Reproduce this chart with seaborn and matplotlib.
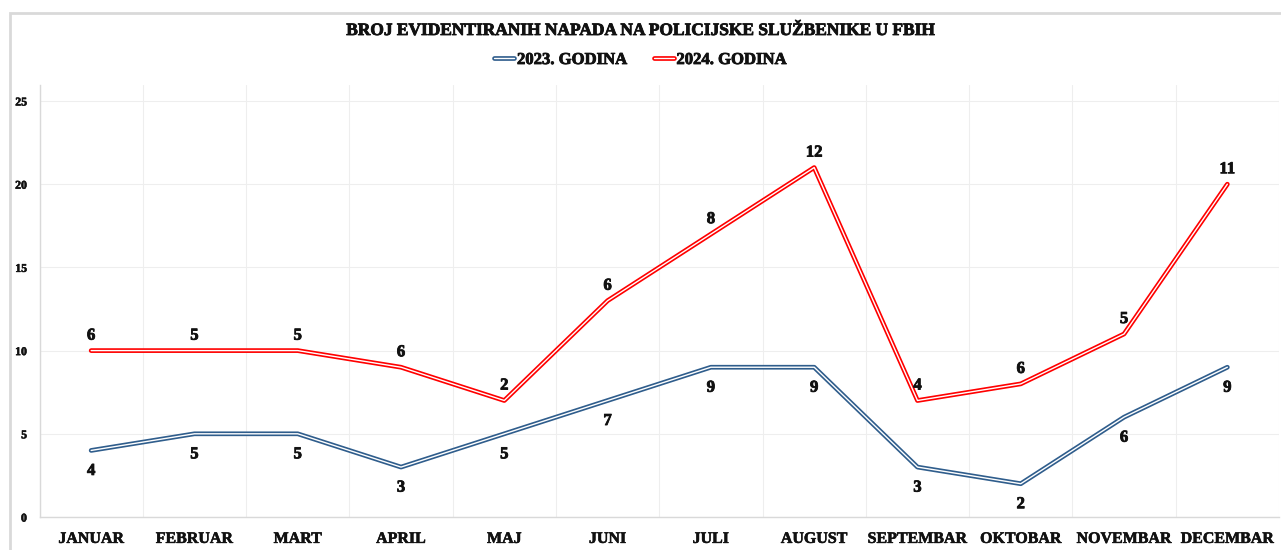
import numpy as np
import pandas as pd
import matplotlib
matplotlib.use("Agg")
import matplotlib.pyplot as plt
import matplotlib.patheffects as pe
from matplotlib.patches import Rectangle
import seaborn as sns

months = ["JANUAR", "FEBRUAR", "MART", "APRIL", "MAJ", "JUNI", "JULI",
          "AUGUST", "SEPTEMBAR", "OKTOBAR", "NOVEMBAR", "DECEMBAR"]
v2023 = [4, 5, 5, 3, 5, 7, 9, 9, 3, 2, 6, 9]
v2024 = [6, 5, 5, 6, 2, 6, 8, 12, 4, 6, 5, 11]
series_names = ["2023. GODINA", "2024. GODINA"]
colors = ["#2F5D8C", "#FF0000"]
yticks = [0, 5, 10, 15, 20, 25]
title = "BROJ EVIDENTIRANIH NAPADA NA POLICIJSKE SLUŽBENIKE U FBIH"

# stacked line chart: 2024 is drawn on top of 2023
stack2023 = np.array(v2023)
stack2024 = stack2023 + np.array(v2024)

df = pd.DataFrame({
    "x": list(range(len(months))) * 2,
    "y": list(stack2023) + list(stack2024),
    "label": v2023 + v2024,
    "series": [series_names[0]] * 12 + [series_names[1]] * 12,
})

sns.set_theme(style="white")
plt.rcParams["font.family"] = ["Liberation Serif", "DejaVu Serif"]
plt.rcParams["font.weight"] = "bold"

TXT = "#111111"
bold_fx = [pe.withStroke(linewidth=0.6, foreground=TXT)]

fig = plt.figure(figsize=(12.81, 5.5), dpi=100)
W, H = 1281, 550
ax = fig.add_axes([39.5 / W, 1 - 517 / H, (1279 - 39.5) / W, (517 - 85) / H])

# chart border
fig.patches.append(Rectangle((10 / W, -0.1), 1.2, (550 - 13) / H + 0.1,
                             transform=fig.transFigure, fill=False,
                             edgecolor="#D9D9D9", linewidth=2, zorder=0))

for name, col in zip(series_names, colors):
    sub = df[df["series"] == name]
    sns.lineplot(data=sub, x="x", y="y", ax=ax, color="white", linewidth=1.0,
                 label=name, estimator=None, sort=False,
                 path_effects=[pe.Stroke(linewidth=3.4, foreground=col), pe.Normal()],
                 zorder=3)

ax.set_xlim(-0.5, 11.5)
ax.set_ylim(0, 25.96)
ax.set_yticks(yticks)
ax.set_yticklabels([str(t) for t in yticks], fontsize=8.5, fontweight="bold",
                   color=TXT)
ax.set_xticks(range(len(months)))
ax.set_xticklabels(months, fontsize=11.5, fontweight="bold", color=TXT)
for t in ax.get_xticklabels() + ax.get_yticklabels():
    t.set_path_effects([pe.withStroke(linewidth=0.4, foreground=TXT)])
ax.set_xticks(np.arange(-0.5, 12, 1), minor=True)
ax.tick_params(axis="both", which="both", length=0)
ax.tick_params(axis="x", pad=10)
ax.tick_params(axis="y", pad=9)
ax.grid(True, axis="y", which="major", color="#EEEEEE", linewidth=0.8)
ax.grid(True, axis="x", which="minor", color="#EEEEEE", linewidth=0.8)
ax.grid(False, axis="x", which="major")
ax.set_xlabel("")
ax.set_ylabel("")
for s in ["top", "right"]:
    ax.spines[s].set_visible(False)
ax.spines["left"].set_color("#D9D9D9")
ax.spines["bottom"].set_color("#D9D9D9")
ax.spines["left"].set_linewidth(1)
ax.spines["bottom"].set_linewidth(1)

# data labels
for i in range(12):
    ax.annotate(str(v2023[i]), (i, stack2023[i]), xytext=(0, -9),
                textcoords="offset points", ha="center", va="top",
                fontsize=12, fontweight="bold", color=TXT, path_effects=bold_fx)
    ax.annotate(str(v2024[i]), (i, stack2024[i]), xytext=(0, 5),
                textcoords="offset points", ha="center", va="bottom",
                fontsize=12, fontweight="bold", color=TXT, path_effects=bold_fx)

fig.text(0.5, 1 - 31 / H, title, ha="center", va="center", fontsize=12.5,
         fontweight="bold", color=TXT, path_effects=bold_fx)
leg = ax.legend(loc="center", bbox_to_anchor=(0.5, 1 - 60 / H),
                bbox_transform=fig.transFigure, ncol=2, frameon=False,
                fontsize=12, handlelength=1.2, handletextpad=0.15,
                columnspacing=1.6)
for t in leg.get_texts():
    t.set_fontweight("bold")
    t.set_color(TXT)
    t.set_path_effects(bold_fx)

fig.savefig("out.png", dpi=100)
